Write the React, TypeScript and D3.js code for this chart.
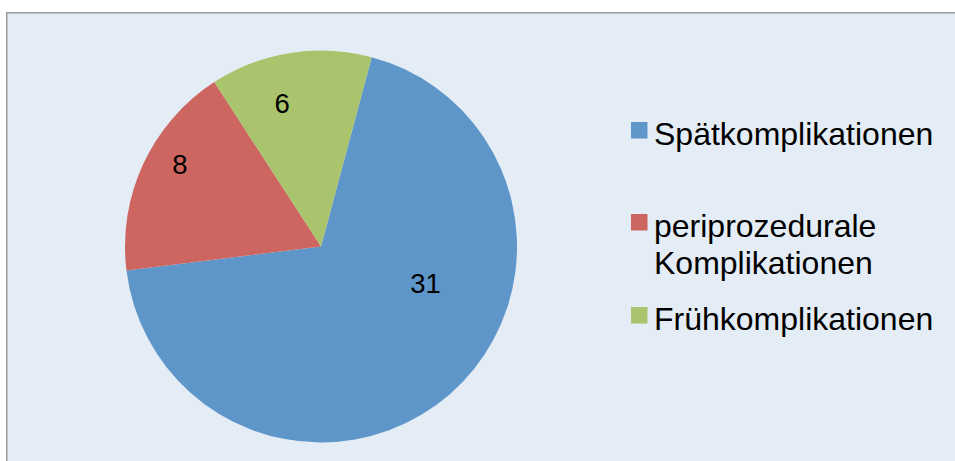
import React from 'react';
import * as d3 from 'd3';

const categories = ['Spätkomplikationen', 'periprozedurale Komplikationen', 'Frühkomplikationen'];
const legendLines = [['Spätkomplikationen'], ['periprozedurale', 'Komplikationen'], ['Frühkomplikationen']];
const values = [31, 8, 6];
const colors = ['#5F96C9', '#CD6660', '#A9C46C'];
// where each data label sits: fraction along the slice, fraction of the radius
const labelAlong = [0.381, 0.582, 0.373];
const labelRadius = [0.566, 0.834, 0.759];

const W = 955;
const H = 461;

export default function App() {
  const cx = 321;
  const cy = 246.5;
  const r = 196;

  const pie = d3.pie<number>()
    .sort(null)
    .startAngle((15 * Math.PI) / 180)
    .endAngle((375 * Math.PI) / 180);
  const arcs = pie(values);
  const arc = d3.arc<d3.PieArcDatum<number>>().innerRadius(0).outerRadius(r);

  const legendBaselines = [145, 237, 330];

  return (
    <svg width={W} height={H} style={{ position: 'fixed', left: 0, top: 0 }}
      fontFamily="'Liberation Sans', Arial, sans-serif">
      <rect x={0} y={0} width={W} height={H} fill="#fff" />
      <rect x={6.75} y={12.75} width={W + 20} height={H + 20} fill="#E4ECF5" stroke="#9a9a9a" strokeWidth={1.5} />
      <g transform={`translate(${cx},${cy})`}>
        {arcs.map((a, i) => (
          <path key={categories[i]} d={arc(a) || ''} fill={colors[i]} />
        ))}
        {arcs.map((a, i) => {
          const ang = a.startAngle + (a.endAngle - a.startAngle) * labelAlong[i];
          const rr = r * labelRadius[i];
          return (
            <text key={'l' + i} x={rr * Math.sin(ang)} y={-rr * Math.cos(ang)}
              dy="0.35em" textAnchor="middle" fontSize={27.5} fill="#000">
              {values[i]}
            </text>
          );
        })}
      </g>
      <g>
        {legendLines.map((lines, i) => (
          <g key={'lg' + i}>
            <rect x={631} y={legendBaselines[i] - 23} width={16.5} height={16.5} fill={colors[i]} />
            {lines.map((t, j) => (
              <text key={j} x={654} y={legendBaselines[i] + j * 37} fontSize={32} fill="#000">{t}</text>
            ))}
          </g>
        ))}
      </g>
    </svg>
  );
}
